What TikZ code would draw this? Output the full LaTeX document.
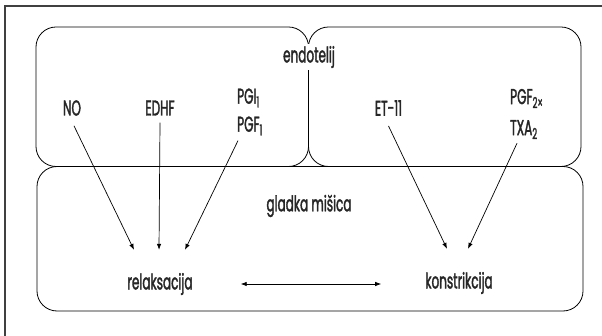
\documentclass[tikz,border=0pt]{standalone}
\usepackage{fontspec}
\setmainfont{Poppins}[FakeStretch=0.56, FakeBold=1.6]
\usetikzlibrary{arrows.meta, positioning}

\begin{document}
\begin{tikzpicture}[
    x=1pt, y=-1pt,
    box/.style={draw, rounded corners=20pt, line width=0.8pt, inner sep=0pt},
    label/.style={inner sep=1pt, text=black!85, font=\fontsize{21.5}{28}\selectfont},
    arrow/.style={-{Latex[length=6pt, width=4.5pt]}, line width=0.7pt},
    dblarrow/.style={{Latex[length=6pt, width=4.5pt]}-{Latex[length=6pt, width=4.5pt]}, line width=0.7pt}
]
\useasboundingbox (0,0) rectangle (602,336);

% Okvir
\draw[line width=1.2pt, black!75] (5,336) -- (5,6) -- (602,6);

% Endotelij (dvije stanice) i gladka misica
\node[box, minimum width=272.5pt, minimum height=139.5pt] (endoL) at (172.25,96.75) {};
\node[box, minimum width=272.5pt, minimum height=139.5pt] (endoR) at (444.75,96.75) {};
\node[box, minimum width=546pt, minimum height=144.5pt] (misica) at (310,238.75) {};

% Natpis endotelij
\node[label, fill=white, minimum height=26pt] (endo) at (309,57) {endotelij};

% Medijatori relaksacije
\node[label] (NO) at (72,108) {NO};
\node[label] (EDHF) at (160,108) {EDHF};
\node[label, align=left, anchor=west] (PGI) at (236,112) {PGI\textsubscript{1}\\PGF\textsubscript{1}};

% Medijatori konstrikcije
\node[label] (ET) at (388.5,108) {ET-11};
\node[label, align=left, anchor=west] (TXA) at (509,114) {PGF\textsubscript{2×}\\[3pt]TXA\textsubscript{2}};

% Gladka misica
\node[label] (glatka) at (309,206) {gladka mišica};
\node[label] (relax) at (160,284) {relaksacija};
\node[label] (konstr) at (459,283) {konstrikcija};

% Strelice prema relaksaciji
\draw[arrow] ([xshift=2pt, yshift=-9pt]NO.south) -- ([xshift=-26pt, yshift=22pt]relax.north);
\draw[arrow] ([yshift=-6pt]EDHF.south) -- ([xshift=-1pt, yshift=22pt]relax.north);
\draw[arrow] ([xshift=2pt, yshift=-4pt]PGI.south west) -- ([xshift=25pt, yshift=22pt]relax.north);

% Strelice prema konstrikciji
\draw[arrow] ([yshift=-9pt]ET.south) -- ([xshift=-12pt, yshift=22pt]konstr.north);
\draw[arrow] ([xshift=8pt, yshift=-3pt]TXA.south west) -- ([xshift=9pt, yshift=22pt]konstr.north);

% Relaksacija <-> konstrikcija
\draw[dblarrow, shorten <=47pt, shorten >=43pt] (relax.east) -- (relax.east -| konstr.west);

\end{tikzpicture}
\end{document}
